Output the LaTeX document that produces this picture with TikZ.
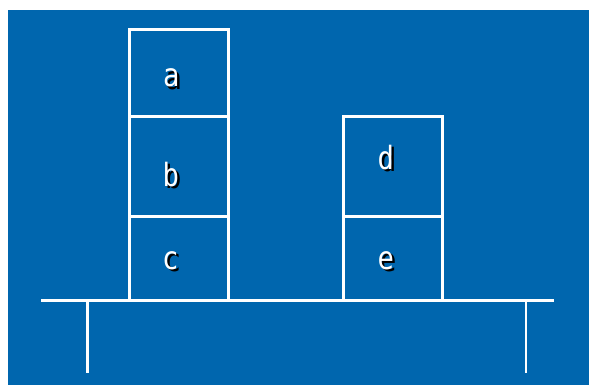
\documentclass[tikz,border=0pt]{standalone}
\usepackage{fontspec}
\newfontfamily\blockfont{DejaVu Sans Mono}
\definecolor{boardblue}{RGB}{0,102,174}
\newcommand\BlockLetter[4]{%
  \node[LetterStyle] (#1) at (#2,#3) {\scalebox{0.85}[1]{%
    \rlap{\hspace{2.9pt}\raisebox{-2.5pt}{\textcolor{black}{#4}}}#4}};}

\begin{document}
\begin{tikzpicture}[x=1pt,y=-1pt]
        \tikzset{BlockStyle/.style = {draw = white, line width = 2.6pt,
        minimum width = 99.3pt, inner sep = 0pt},
        LetterStyle/.style = {text = white, anchor = base west, inner sep = 0pt,
        xshift = -8pt, font = \blockfont\fontsize{32}{32}\selectfont},
        TableStyle/.style = {draw = white, line width = 2.6pt}}
        \useasboundingbox (0,0) rectangle (589,385);
        \fill[boardblue] (8,10) rectangle (589,385);
        \coordinate (TL) at (41,300.3);
        \coordinate (TR) at (554,300.3);
        \coordinate (LegL) at (87.3,373);
        \coordinate (LegR) at (526,373);
        \draw[TableStyle] (TL) -- (TR);
        \draw[TableStyle] (LegL |- TL) -- (LegL);
        \draw[TableStyle] (LegR |- TL) -- (LegR);
        \node[BlockStyle, minimum height = 87pt] (a) at (179,72.8) {};
        \node[BlockStyle, minimum height = 100pt] (b) at (179,166.3) {};
        \node[BlockStyle, minimum height = 83.7pt] (c) at (179,258.2) {};
        \node[BlockStyle, minimum height = 100pt] (d) at (393,166.3) {};
        \node[BlockStyle, minimum height = 83.7pt] (e) at (393,258.2) {};
        \BlockLetter{la}{171}{87}{a}
        \BlockLetter{lb}{170.5}{186}{b}
        \BlockLetter{lc}{170}{269}{c}
        \BlockLetter{ld}{385.5}{169}{d}
        \BlockLetter{le}{385.5}{269}{e}
    \end{tikzpicture}
\end{document}
